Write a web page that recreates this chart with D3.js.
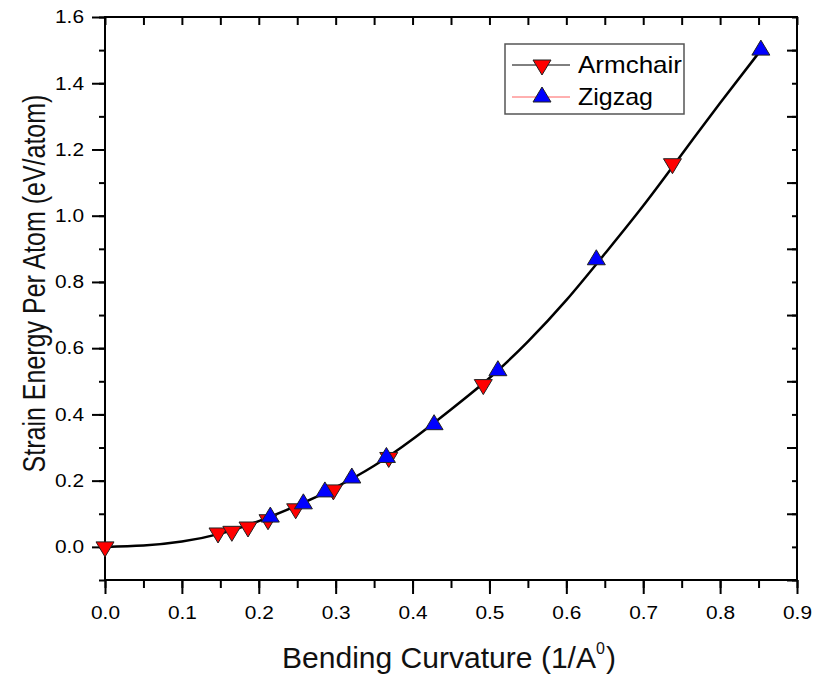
<!DOCTYPE html>
<html>
<head>
<meta charset="utf-8">
<script src="https://cdn.jsdelivr.net/npm/d3@7"></script>
<style>
  body { margin: 0; background: #fff; }
  text { font-family: "Liberation Sans", Arial, sans-serif; }
</style>
</head>
<body>
<div id="vis"></div>
<script>
// data
var armchairX = [0, 0.147, 0.165, 0.186, 0.212, 0.248, 0.297, 0.369, 0.492, 0.738];
var armchairY = [0, 0.042, 0.047, 0.06, 0.082, 0.115, 0.172, 0.27, 0.49, 1.157];
var zigzagX = [0.215, 0.258, 0.286, 0.321, 0.366, 0.428, 0.511, 0.639, 0.853];
var zigzagY = [0.09, 0.13, 0.166, 0.208, 0.27, 0.369, 0.532, 0.867, 1.50];
// fitted curve
var fitX = [0, 0.05, 0.1, 0.15, 0.2, 0.25, 0.3, 0.35, 0.4, 0.45, 0.5, 0.55, 0.6, 0.65, 0.7, 0.75, 0.8, 0.853];
var fitY = [0, 0.004, 0.016, 0.04, 0.078, 0.125, 0.18, 0.245, 0.325, 0.415, 0.51, 0.62, 0.745, 0.885, 1.03, 1.185, 1.34, 1.50];
var xTicks = [0, 0.1, 0.2, 0.3, 0.4, 0.5, 0.6, 0.7, 0.8, 0.9];
var yTicks = [0, 0.2, 0.4, 0.6, 0.8, 1.0, 1.2, 1.4, 1.6];
var legendNames = ['Armchair', 'Zigzag'];

var width = 814, height = 681;
var margin = { top: 17, right: 17, bottom: 101, left: 105 };
var w = width - margin.left - margin.right;
var h = height - margin.top - margin.bottom;

var svg = d3.select('#vis').append('svg')
    .attr('width', width)
    .attr('height', height);

var g = svg.append('g')
    .attr('transform', 'translate(' + margin.left + ',' + margin.top + ')');

var x = d3.scaleLinear().domain([0, 0.9]).range([0, w]);
var y = d3.scaleLinear().domain([-0.1, 1.6]).range([h, 0]);

var minorX = d3.range(0, 0.9001, 0.05);
var minorY = d3.range(-0.1, 1.6001, 0.1);

function styleAxis(sel) {
    sel.select('.domain').remove();
    sel.selectAll('line').attr('stroke', '#000').attr('stroke-width', 2);
    sel.selectAll('text')
        .attr('font-size', 18)
        .attr('fill', '#000')
        .attr('textLength', 29)
        .attr('lengthAdjust', 'spacingAndGlyphs');
}

// bottom, outward
g.append('g').attr('transform', 'translate(0,' + h + ')')
    .call(d3.axisBottom(x).tickValues(minorX).tickSize(8).tickFormat(''))
    .call(styleAxis);
g.append('g').attr('transform', 'translate(0,' + h + ')')
    .call(d3.axisBottom(x).tickValues(xTicks).tickSize(14).tickPadding(12).tickFormat(d3.format('.1f')))
    .call(styleAxis);

// left, outward
g.append('g')
    .call(d3.axisLeft(y).tickValues(minorY).tickSize(6).tickFormat(''))
    .call(styleAxis);
g.append('g')
    .call(d3.axisLeft(y).tickValues(yTicks).tickSize(13).tickPadding(8).tickFormat(d3.format('.1f')))
    .call(styleAxis);

// top, inward
g.append('g')
    .call(d3.axisTop(x).tickValues(minorX).tickSize(-8).tickFormat(''))
    .call(styleAxis);

// right, inward
g.append('g').attr('transform', 'translate(' + w + ',0)')
    .call(d3.axisRight(y).tickValues(minorY).tickSize(-5).tickFormat(''))
    .call(styleAxis);
g.append('g').attr('transform', 'translate(' + w + ',0)')
    .call(d3.axisRight(y).tickValues(d3.range(-0.1, 1.6001, 0.2)).tickSize(-10).tickFormat(''))
    .call(styleAxis);

// frame
g.append('rect')
    .attr('width', w).attr('height', h)
    .attr('fill', 'none').attr('stroke', '#000').attr('stroke-width', 2);

// fitted line
var fit = fitX.map(function (d, i) { return [d, fitY[i]]; });
var line = d3.line()
    .x(function (d) { return x(d[0]); })
    .y(function (d) { return y(d[1]); })
    .curve(d3.curveNatural);

g.append('path')
    .datum(fit)
    .attr('d', line)
    .attr('fill', 'none')
    .attr('stroke', '#000')
    .attr('stroke-width', 2.5);

// triangle centred on its centroid, 18 wide, 15 tall
var tri = 'M-9,5L9,5L0,-10Z';

function markers(xs, ys, fill, rot) {
    g.append('g').selectAll('path')
        .data(xs.map(function (d, i) { return [d, ys[i]]; }))
        .enter()
        .append('path')
        .attr('d', tri)
        .attr('transform', function (d) {
            return 'translate(' + x(d[0]) + ',' + y(d[1]) + ') rotate(' + rot + ')';
        })
        .attr('fill', fill)
        .attr('stroke', '#222')
        .attr('stroke-width', 1);
}
markers(armchairX, armchairY, '#ff0000', 180);
markers(zigzagX, zigzagY, '#0000ff', 0);

// legend
var lg = svg.append('g').attr('transform', 'translate(505,44)');
lg.append('rect')
    .attr('width', 179).attr('height', 70)
    .attr('fill', '#fff').attr('stroke', '#555').attr('stroke-width', 1.5);
var legendFill = ['#ff0000', '#0000ff'];
var legendLine = ['#000', '#ff6060'];
var legendWidth = [104, 75];
legendNames.forEach(function (name, i) {
    var yy = 21 + i * 32;
    lg.append('line')
        .attr('x1', 7).attr('x2', 65).attr('y1', yy).attr('y2', yy)
        .attr('stroke', legendLine[i]).attr('stroke-width', 1);
    lg.append('path')
        .attr('d', tri)
        .attr('transform', 'translate(37,' + yy + ') rotate(' + (i === 0 ? 180 : 0) + ')')
        .attr('fill', legendFill[i]).attr('stroke', '#222').attr('stroke-width', 1);
    lg.append('text')
        .attr('x', 73).attr('y', yy + 8)
        .attr('font-size', 24)
        .attr('textLength', legendWidth[i])
        .attr('lengthAdjust', 'spacingAndGlyphs')
        .text(name);
});

// axis titles
var xt = svg.append('text')
    .attr('x', 282).attr('y', 668)
    .attr('font-size', 30)
    .attr('fill', '#111');
xt.append('tspan').text('Bending Curvature (1/A').attr('textLength', 314).attr('lengthAdjust', 'spacingAndGlyphs');
xt.append('tspan').attr('font-size', 16).attr('dy', -14).text('0');
xt.append('tspan').attr('dy', 14).attr('dx', 1).text(')');

// y title: narrow glyphs, stretched across
svg.append('text')
    .attr('transform', 'translate(45,' + (margin.top + h / 2 - 15) + ') rotate(-90) scale(1,1.28)')
    .attr('text-anchor', 'middle')
    .attr('font-size', 25)
    .attr('fill', '#111')
    .text('Strain Energy Per Atom (eV/atom)');
</script>
</body>
</html>
